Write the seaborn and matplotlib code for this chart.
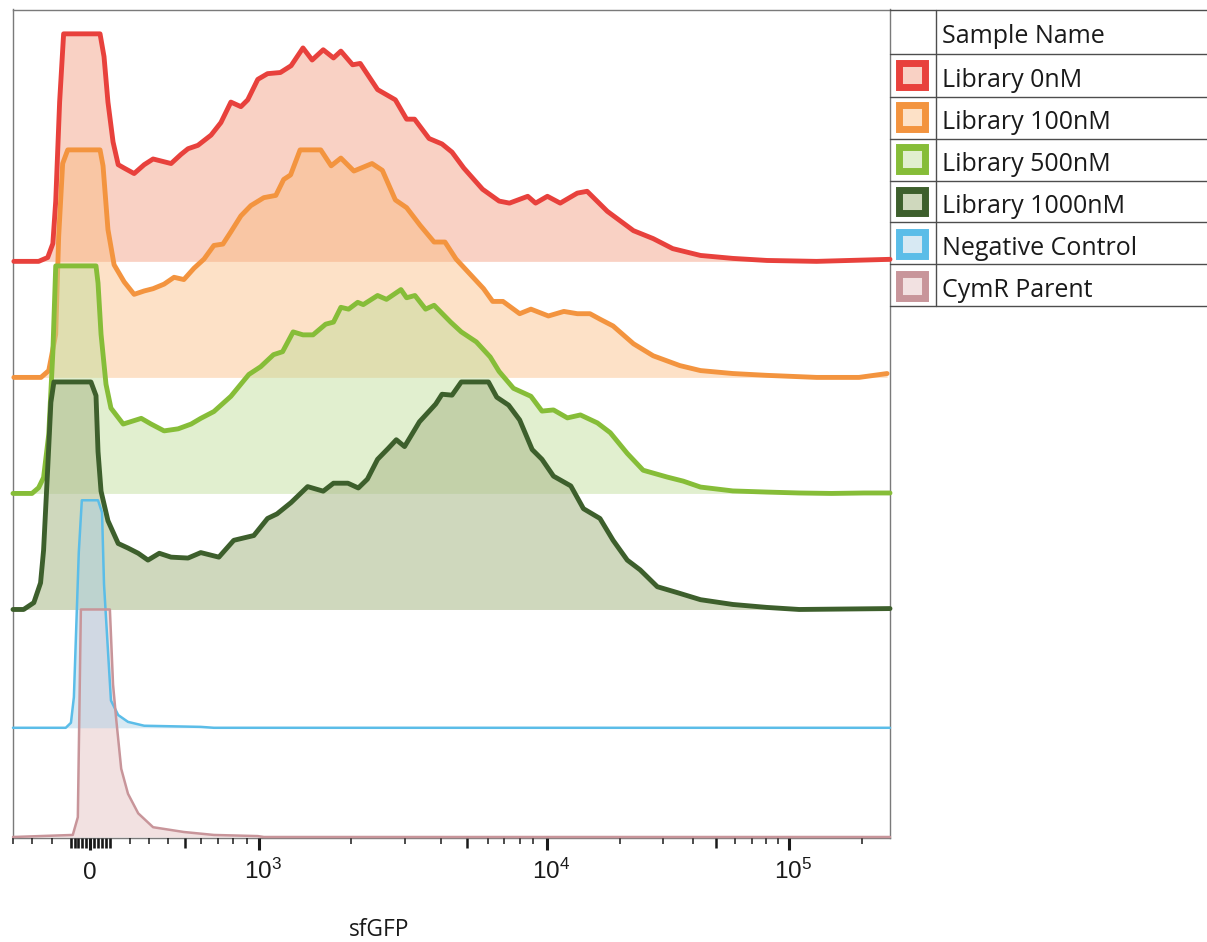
import numpy as np
import pandas as pd
import matplotlib
matplotlib.use("Agg")
import matplotlib.pyplot as plt
import seaborn as sns
from matplotlib.patches import Rectangle
from matplotlib.lines import Line2D
from matplotlib.ticker import FixedLocator
from matplotlib.transforms import ScaledTranslation

sns.set_theme(style="white")
plt.rcParams["font.family"] = ["Open Sans", "DejaVu Sans"]

# ---------------------------------------------------------------- data
# sfGFP intensity (x) and percent of mode (y) for each sample
lib0_x = [-395, -265, -220, -195, -179, -158, -137, 50, 70, 90, 115, 140, 170, 221, 274, 321,
          418, 476, 519, 581, 659, 720, 787, 857, 908, 992, 1070, 1180, 1280, 1400, 1500, 1630,
          1760, 1860, 2030, 2150, 2450, 2800, 3050, 3250, 3650, 4050, 4400, 4850, 5700, 6650,
          7300, 8550, 9150, 10000, 11300, 13300, 14600, 17700, 22700, 27400, 33000, 43000,
          58500, 81000, 130000, 262144]
lib0_y = [0, 0, 1.7, 7.8, 26.5, 70, 100, 100, 90, 70, 52.5, 42.5, 41, 38.6, 42.5, 45,
          43, 47, 49.5, 51, 55.5, 61, 70, 68, 71, 80, 82.5, 83, 86, 93.8, 88.5, 93,
          89.4, 92.4, 86.4, 87, 75.5, 71, 62.5, 62.5, 54, 51.6, 48, 41, 31.7, 26.5,
          25.6, 28.6, 25.6, 28.6, 25.6, 30, 30.8, 22, 13.5, 10, 5.6, 2.6,
          1.3, 0.4, 0, 0.9]

lib100_x = [-395, -253, -215, -179, -163, -142, -116, 50, 65, 90, 120, 170, 221, 274, 321, 379,
            435, 494, 556, 618, 676, 733, 787, 857, 933, 1040, 1140, 1210, 1275, 1370, 1600,
            1730, 1860, 2050, 2350, 2540, 2800, 3050, 3400, 3800, 4150, 4550, 5150, 5750, 6250,
            6900, 7950, 8800, 10100, 11700, 13300, 15000, 16500, 18700, 22700, 27400, 35300,
            43000, 58500, 81000, 130000, 195000, 255000]
lib100_y = [0, 0, 3, 19, 62, 94, 100, 100, 93, 65, 49.5, 42, 36.5, 38, 39, 41,
            44, 43, 48, 52, 58, 58.6, 64, 71, 75.5, 79, 80, 87, 89, 100, 100,
            93, 96.4, 90.7, 94, 91, 78, 74.6, 66.8, 59.5, 59.5, 52, 45, 39, 33.4,
            33.4, 28, 30, 27, 29, 28, 28, 25.6, 22.6, 14.8, 9.5, 5.2,
            3, 1.7, 0.9, 0, 0, 1.7]

lib500_x = [-400, -300, -265, -240, -215, -195, -179, 30, 40, 55, 80, 105, 165, 258, 311, 379,
            459, 538, 600, 676, 787, 917, 1015, 1120, 1200, 1300, 1400, 1510, 1660, 1760, 1860,
            1970, 2110, 2200, 2450, 2620, 2920, 3050, 3260, 3550, 3800, 4350, 4750, 5400, 6100,
            6650, 7550, 8800, 9600, 10600, 12100, 13700, 16100, 18200, 21400, 24900, 31300,
            36500, 43000, 58500, 81000, 110000, 150000, 205000, 262144]
lib500_y = [0, 0, 2.5, 7, 26, 62, 100, 100, 92.5, 70, 48, 37.5, 30.5, 33, 30.5, 27.5,
            28.4, 30.5, 33, 36, 42.7, 52.3, 55.7, 61, 62.3, 71, 69.7, 69.7, 74.4, 75.3, 81.8,
            81, 84, 83, 87, 85.3, 89.6, 86, 87, 81, 82.7, 75.3, 71, 66.6, 60,
            53.6, 46.2, 42.7, 36.2, 36.7, 33.2, 34.5, 31, 26.7, 17.6, 10.2, 7.2,
            5.4, 2.8, 1.1, 0.6, 0.2, 0, 0.2, 0.2]

lib1000_x = [-400, -342, -290, -255, -240, -220, -205, -189, 5, 30, 40, 55, 90, 140, 190, 242,
             295, 353, 418, 519, 600, 707, 807, 958, 1070, 1150, 1280, 1450, 1630, 1760, 1960,
             2120, 2270, 2450, 2650, 2820, 3000, 3380, 3850, 4050, 4400, 4750, 6000, 6500, 7250,
             7950, 8900, 9600, 10600, 12500, 14100, 16500, 18700, 21400, 24200, 28500, 34500,
             43000, 58500, 81000, 110000, 262144]
lib1000_y = [0, 0, 3, 11.7, 26, 62, 91, 100, 100, 94, 69.4, 52, 39, 29, 27, 24.7,
             21.7, 24.7, 23, 22.6, 25, 23, 30.4, 32.5, 40, 42, 47, 54, 52, 55.5, 55.5,
             53.4, 57.3, 66, 70.7, 74.6, 71.6, 82.5, 90.3, 94.6, 94.2, 100, 100, 93.3, 89.8,
             83.3, 70.3, 66, 58.6, 54.3, 44.3, 40, 30.4, 21.7, 17.4, 10, 7.4,
             4.3, 2.2, 0.9, 0, 0.4]

neg_x = [-400, -126, -100, -84, -58, -42, 40, 60, 70, 90, 105, 140, 190, 274, 600, 676, 262144]
neg_y = [0, 0, 2.2, 13.5, 77, 100, 100, 94.6, 63, 34, 12, 5.6, 2.6, 0.9, 0.4, 0, 0]

parent_x = [-400, -90, -63, -47, 100, 115, 130, 155, 190, 242, 321, 494, 676, 992, 1040, 262144]
parent_y = [0, 0.9, 8.7, 100, 100, 67, 52, 30, 19, 10.4, 4.3, 2.2, 0.9, 0.4, 0, 0]

sample_names = ["Library 0nM", "Library 100nM", "Library 500nM", "Library 1000nM",
                "Negative Control", "CymR Parent"]
sample_x = [lib0_x, lib100_x, lib500_x, lib1000_x, neg_x, parent_x]
sample_y = [lib0_y, lib100_y, lib500_y, lib1000_y, neg_y, parent_y]

# ---------------------------------------------------------------- styling
line_colors = ["#e8413c", "#f3943f", "#86bd38", "#3d5f2c", "#5bbde8", "#c8959a"]
fill_colors = ["#ee693c", "#fab675", "#bedc96", "#afbe91", "#a8cfe6", "#d79e9e"]
fill_alphas = [0.30, 0.40, 0.45, 0.60, 0.45, 0.30]
fill_order = [1, 3, 5, 7, 9, 8.5]          # the parent fill sits beneath the control fill
line_widths = [3.5, 3.5, 3.5, 3.5, 1.8, 1.8]
stagger = [253, 202, 151, 100, 48, 0]      # vertical offset of each histogram (% of mode)

W, H = 1207, 942


def fx(px):
    return px / W


def fy(py):
    return 1 - py / H


# biexponential-style display: near-linear around zero, logarithmic in the upper decades
cal_values = np.array([-1000, -400, -300, -200, -100, 0, 100, 200, 300, 400, 500, 600, 700,
                       800, 900, 1e3, 2e3, 3e3, 4e3, 5e3, 6e3, 7e3, 8e3, 9e3, 1e4, 1e5,
                       262144, 1e6])
cal_channel = np.array([-56, 12, 31, 51, 70, 89, 109, 129, 148, 167, 184, 200, 217,
                        232, 246, 258, 350, 404, 440, 467, 488, 504, 520, 533, 547, 789,
                        890, 1031], dtype=float)
cal_s = np.arcsinh(cal_values / 300.0)


def biex_forward(v):
    return np.interp(np.arcsinh(np.asarray(v, dtype=float) / 300.0), cal_s, cal_channel)


def biex_inverse(c):
    return 300.0 * np.sinh(np.interp(np.asarray(c, dtype=float), cal_channel, cal_s))


fig = plt.figure(figsize=(W / 100, H / 100), dpi=100)
fig.patch.set_facecolor("white")
ax = fig.add_axes([fx(13), fy(838), fx(890) - fx(13), fy(9.5) - fy(838)])
ax.set_facecolor("white")
ax.set_xscale("function", functions=(biex_forward, biex_inverse))

for i, name in enumerate(sample_names):
    df = pd.DataFrame({"sfGFP": sample_x[i], "pct": sample_y[i]})
    df["level"] = df["pct"] + stagger[i]
    ax.fill_between(df["sfGFP"], stagger[i], df["level"], color=fill_colors[i],
                    alpha=fill_alphas[i], lw=0, zorder=fill_order[i])
    sns.lineplot(data=df, x="sfGFP", y="level", ax=ax, color=line_colors[i],
                 lw=line_widths[i], sort=False, estimator=None, zorder=2 * i + 2,
                 clip_on=False, solid_joinstyle="round", solid_capstyle="round")

ax.set_xlim(-400, 262144)
ax.set_ylim(-0.44, 363.7)
ax.set_yticks([])
ax.set_ylabel("")

for side in ["left", "right", "top", "bottom"]:
    ax.spines[side].set_visible(True)
    ax.spines[side].set_color("#7a7a7a")
    ax.spines[side].set_linewidth(1.0)
    ax.spines[side].set_zorder(0.5)

# x ticks
major_locs = [0, 1e3, 1e4, 1e5]
major_labels = ["0", r"$\mathregular{10^{3}}$", r"$\mathregular{10^{4}}$", r"$\mathregular{10^{5}}$"]
minor_locs = sorted([-400, -300, -200]
                    + list(range(-100, 0, 20)) + list(range(20, 101, 20))
                    + [200, 300, 400, 500, 600, 700, 800, 900]
                    + [2000, 3000, 4000, 5000, 6000, 7000, 8000, 9000]
                    + [20000, 30000, 40000, 50000, 60000, 70000, 80000, 90000]
                    + [200000])
ax.xaxis.set_major_locator(FixedLocator(major_locs))
ax.xaxis.set_minor_locator(FixedLocator(minor_locs))
ax.set_xticklabels(major_labels)
ax.tick_params(axis="x", which="major", direction="out", length=8.8, width=2.2,
               color="#1a1a1a", pad=20.7, labelsize=17.5, labelcolor="#1a1a1a", bottom=True)
ax.tick_params(axis="x", which="minor", direction="out", length=4.0, width=1.1,
               color="#1a1a1a", bottom=True)
nudge = ScaledTranslation(0.04, 0, fig.dpi_scale_trans)
for lbl, loc in zip(ax.get_xticklabels(), major_locs):
    lbl.set_fontfamily(["Liberation Sans", "DejaVu Sans"])
    lbl.set_va("baseline")
    if loc > 0:
        lbl.set_transform(lbl.get_transform() + nudge)
for tick, loc in zip(ax.xaxis.get_minor_ticks(), ax.xaxis.get_minorticklocs()):
    if loc in (500, 5000, 50000):
        tick.tick1line.set_markersize(7.2)
        tick.tick1line.set_markeredgewidth(1.8)
    elif abs(loc) <= 100:
        tick.tick1line.set_markersize(7.0)
        tick.tick1line.set_markeredgewidth(1.9)

ax.set_xlabel("sfGFP", fontsize=16.4, color="#1a1a1a")
ax.xaxis.label.set_va("baseline")
ax.xaxis.set_label_coords((379.5 - 13) / 877, (838 - 936.5) / 828.5)

# sample table on the right
grid_color = "#4d4d4d"
table_lines = [((890, 1207), (9.5, 9.5)), ((936, 936), (9.5, 306))]
row_edges = [54, 96.5, 138.5, 180.5, 222, 264, 306]
for yy in row_edges:
    table_lines.append(((890, 1207), (yy, yy)))
for (xs, ys) in table_lines:
    fig.add_artist(Line2D([fx(xs[0]), fx(xs[1])], [fy(ys[0]), fy(ys[1])],
                          transform=fig.transFigure, color=grid_color, lw=1.0))

fig.text(fx(942), fy(43.3), "Sample Name", fontsize=18, color="#1a1a1a", va="baseline")
for i, name in enumerate(sample_names):
    cy = 74.7 + 42.25 * i
    fig.text(fx(942), fy(87.3 + 41.9 * i), name, fontsize=18, color="#1a1a1a", va="baseline")
    face = (*matplotlib.colors.to_rgb(fill_colors[i]), fill_alphas[i])
    sw = Rectangle((fx(912 - 12.8), fy(cy + 11.8)), fx(25.6), 23.6 / H,
                   transform=fig.transFigure, facecolor=face,
                   edgecolor=line_colors[i], lw=5.0, joinstyle="miter")
    fig.add_artist(sw)

fig.savefig("out.png", dpi=100, facecolor="white")
